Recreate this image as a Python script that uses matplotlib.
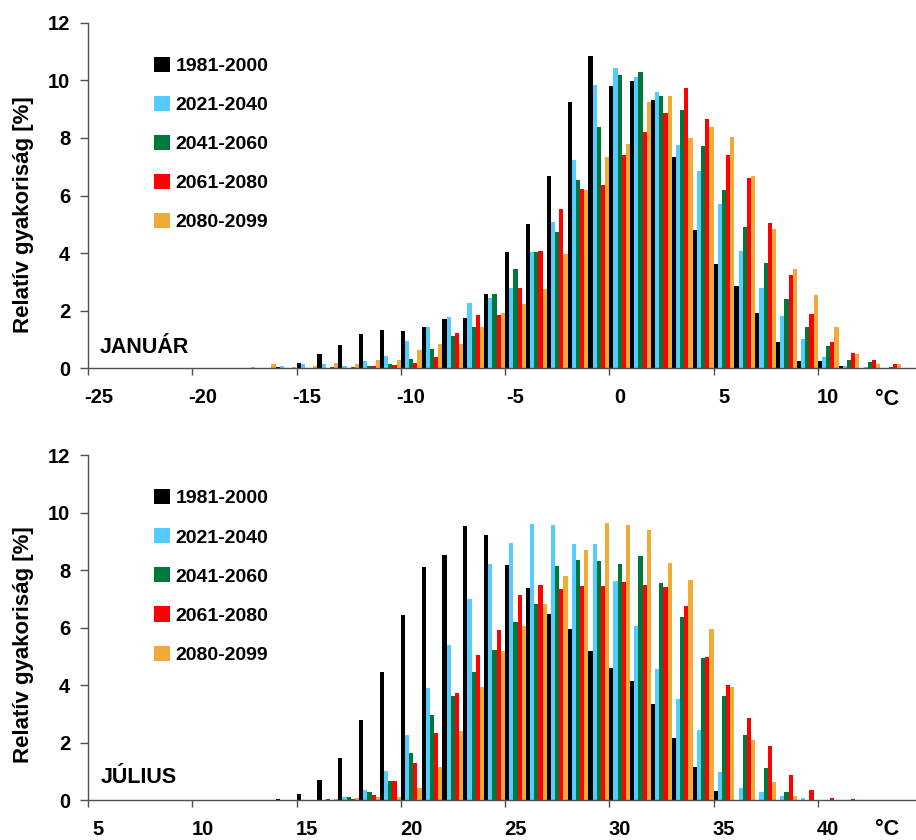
import numpy as np
import matplotlib
matplotlib.use("Agg")
import matplotlib.pyplot as plt
from matplotlib.ticker import FixedLocator

plt.rcParams['font.family'] = ['Liberation Sans', 'DejaVu Sans']
plt.rcParams['font.weight'] = 'bold'

series_labels = ["1981-2000", "2021-2040", "2041-2060", "2061-2080", "2080-2099"]
series_colors = ["#000000", "#55CCFF", "#00783C", "#FF0000", "#F0AA35"]

# ---------------- January: categories -25 .. 14 ----------------
jan_cats = list(range(-25, 15))
jan_1981 = [0]*7 + [0, 0, 0.05, 0.19, 0.50, 0.81, 1.19, 1.33, 1.30, 1.44, 1.72, 1.75, 2.59, 4.05, 5.02, 6.69,
            9.23, 10.83, 9.79, 9.96, 9.30, 7.32, 4.81, 3.63, 2.86, 1.92, 0.91, 0.26, 0.26, 0.08, 0, 0, 0]
jan_2021 = [0]*7 + [0, 0, 0.07, 0.14, 0.14, 0.09, 0.27, 0.43, 0.94, 1.44, 1.77, 2.26, 2.43, 2.79, 4.05, 5.07,
            7.22, 9.82, 10.42, 10.10, 9.60, 7.76, 6.85, 5.72, 4.07, 2.79, 1.80, 1.02, 0.40, 0.07, 0.03, 0.01, 0]
jan_2041 = [0]*7 + [0, 0, 0, 0, 0, 0, 0.07, 0.15, 0.32, 0.66, 1.12, 1.44, 2.57, 3.44, 4.05, 4.74,
            6.55, 8.39, 10.20, 10.30, 9.46, 8.96, 7.72, 6.19, 4.90, 3.64, 2.41, 1.44, 0.78, 0.30, 0.21, 0.03, 0]
jan_2061 = [0]*7 + [0, 0, 0, 0, 0.05, 0.05, 0.09, 0.12, 0.19, 0.39, 1.23, 1.86, 1.86, 2.79, 4.08, 5.54,
            6.24, 6.38, 7.42, 8.22, 8.85, 9.72, 8.67, 7.42, 6.62, 5.06, 3.25, 1.89, 0.92, 0.53, 0.30, 0.16, 0]
jan_2080 = [0]*7 + [0.05, 0.14, 0.05, 0.09, 0.17, 0.14, 0.29, 0.29, 0.64, 0.83, 0.83, 1.44, 1.92, 2.24, 2.76, 3.98,
            6.20, 7.32, 7.79, 9.23, 9.47, 7.99, 8.39, 8.02, 6.66, 4.83, 3.44, 2.54, 1.44, 0.50, 0.14, 0.14, 0]
jan_ticklabels = ["-25", "-20", "-15", "-10", "-5", "0", "5", "10"]

# ---------------- July: categories 5 .. 44 ----------------
jul_cats = list(range(5, 45))
jul_1981 = [0]*9 + [0.03, 0.21, 0.70, 1.46, 2.78, 4.45, 6.43, 8.10, 8.52, 9.53, 9.22, 8.17, 7.37, 6.47, 5.95,
            5.18, 4.59, 4.14, 3.34, 2.16, 1.15, 0.31, 0, 0, 0, 0, 0, 0, 0, 0, 0]
jul_2021 = [0]*9 + [0, 0, 0, 0.09, 0.35, 1.01, 2.26, 3.90, 5.40, 6.99, 8.22, 8.94, 9.61, 9.57, 8.90,
            8.90, 7.62, 6.05, 4.56, 3.51, 2.43, 0.97, 0.41, 0.29, 0.13, 0.07, 0, 0, 0, 0, 0]
jul_2041 = [0]*9 + [0, 0, 0.03, 0.09, 0.27, 0.67, 1.63, 2.96, 3.62, 4.45, 5.22, 6.20, 6.82, 8.13, 8.35,
            8.31, 8.22, 8.49, 7.55, 6.37, 4.94, 3.62, 2.28, 1.10, 0.28, 0, 0, 0, 0, 0, 0]
jul_2061 = [0]*9 + [0, 0, 0, 0.03, 0.17, 0.67, 1.29, 2.33, 3.72, 5.04, 5.91, 7.13, 7.48, 7.34, 7.44,
            7.44, 7.58, 7.48, 7.41, 6.75, 4.97, 4.00, 2.85, 1.88, 0.87, 0.35, 0.08, 0.03, 0, 0, 0]
jul_2080 = [0]*9 + [0, 0, 0.02, 0.06, 0.09, 0.09, 0.41, 1.15, 2.40, 3.93, 5.17, 6.05, 6.82, 7.79, 8.70,
            9.63, 9.57, 9.39, 8.24, 7.65, 5.95, 3.93, 2.08, 0.64, 0.13, 0, 0, 0, 0, 0, 0]
jul_ticklabels = ["5", "10", "15", "20", "25", "30", "35", "40"]

W, H = 916, 840
fig = plt.figure(figsize=(W/100, H/100), dpi=100)

AXCOL = "#505050"
FS = 14.5


def panel(rect, cats, series, ticklabels):
    ax = fig.add_axes(rect)
    cats = np.array(cats, dtype=float)
    handles = []
    for k, (vals, col, lab) in enumerate(zip(series, series_colors, series_labels)):
        b = ax.bar(cats + (k - 2) * 0.2, vals, width=0.2, color=col, linewidth=0, label=lab)
        handles.append(b)
    x0 = cats[0] - 0.5
    ax.set_xlim(x0, x0 + 828 / 20.85)
    ax.set_ylim(0, 12)
    for s in ("top", "right"):
        ax.spines[s].set_visible(False)
    for s in ("left", "bottom"):
        ax.spines[s].set_color(AXCOL)
        ax.spines[s].set_linewidth(1.0)
    major = [int(t) for t in ticklabels]
    ax.xaxis.set_major_locator(FixedLocator(major))
    ax.set_xticklabels(ticklabels, fontsize=FS, fontweight='bold')
    ax.xaxis.set_minor_locator(FixedLocator([m - 0.5 for m in major]))
    ax.tick_params(axis='x', which='major', length=0, pad=14.3)
    ax.tick_params(axis='x', which='minor', length=5.2, width=1.0, color=AXCOL, direction='out')
    ax.set_yticks(range(0, 13, 2))
    ax.set_yticklabels([str(v) for v in range(0, 13, 2)], fontsize=FS, fontweight='bold')
    ax.tick_params(axis='y', length=5.8, width=1.0, color=AXCOL, direction='out', pad=7)
    ax.legend(handles=handles, loc='upper left', bbox_to_anchor=(0.0797, 0.902),
              frameon=False, borderpad=0, borderaxespad=0,
              handlelength=0.82, handleheight=0.82, handletextpad=0.3,
              labelspacing=1.07, prop={'size': 14, 'weight': 'bold'})
    return ax

ax1 = panel([88/W, 1 - 368.3/H, 828/W, 345.6/H], jan_cats,
            [jan_1981, jan_2021, jan_2041, jan_2061, jan_2080], jan_ticklabels)
ax2 = panel([88/W, 1 - 800/H, 828/W, 344.7/H], jul_cats,
            [jul_1981, jul_2021, jul_2041, jul_2061, jul_2080], jul_ticklabels)

fig.text(100/W, 1 - 352.7/H, "JANUÁR", fontsize=15.5, fontweight='bold', ha='left', va='baseline')
fig.text(101/W, 1 - 782.7/H, "JÚLIUS", fontsize=15.5, fontweight='bold', ha='left', va='baseline')
fig.text(875/W, 1 - 405/H, "°C", fontsize=15.5, fontweight='bold', ha='left', va='baseline')
fig.text(875/W, 1 - 835/H, "°C", fontsize=15.5, fontweight='bold', ha='left', va='baseline')

fig.text(24/W, 1 - 215/H, "Relatív gyakoriság [%]", rotation=90, fontsize=16,
         fontweight='bold', ha='center', va='center')
fig.text(24/W, 1 - 645/H, "Relatív gyakoriság [%]", rotation=90, fontsize=16,
         fontweight='bold', ha='center', va='center')

fig.savefig("out.png", dpi=100)
